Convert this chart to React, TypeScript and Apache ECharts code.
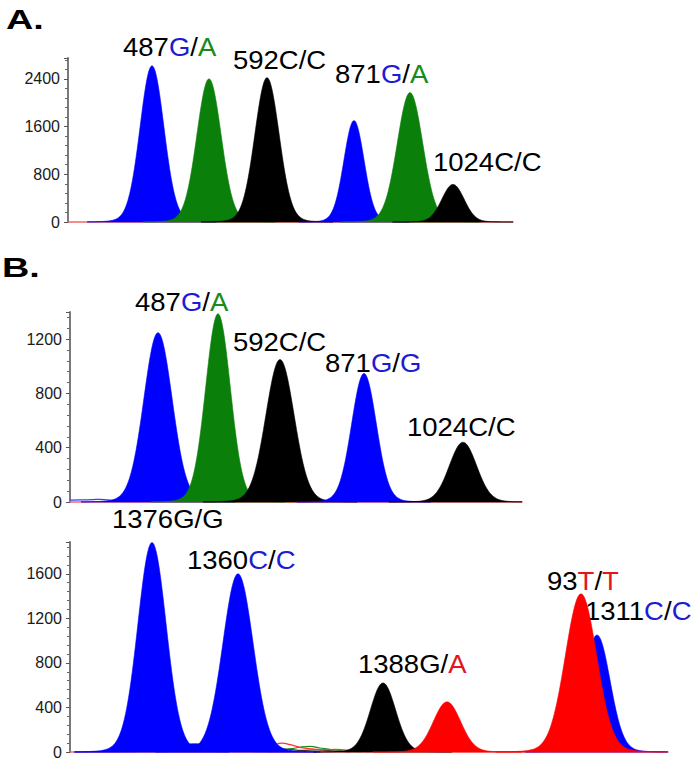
import React, { useEffect, useRef } from "react";
import * as echarts from "echarts";

// ---------- DATA ----------
// Dye colours of the electropherogram traces
const DYE_FILL: Record<string, string> = {
  blue: "#0000ff",
  green: "#0a7f0a",
  black: "#000000",
  red: "#ff0000",
};

// Panel A peaks (scan position, height in RFU, peak sigma in scan units, dye)
const aCenters = [84, 141, 199, 286, 342, 385];
const aHeights = [2620, 2400, 2420, 1700, 2170, 630];
const aWidths = [11.8, 12, 12, 10, 12.6, 11];
const aDyes = ["blue", "green", "black", "blue", "green", "black"];
const aYMax = 2750;
const aXMax = 445;

// Panel B (upper) peaks
const bCenters = [88, 148, 210, 294, 393];
const bHeights = [1248, 1387, 1050, 947, 440];
const bWidths = [14, 12.2, 14, 12.2, 13.5];
const bDyes = ["blue", "green", "black", "blue", "black"];
const bYMax = 1400;
const bXMax = 452;
const bNoiseBlue = [[0, 14], [12, 15], [22, 17], [30, 20], [38, 15], [48, 11], [58, 13], [66, 10]];

// Panel B (lower) peaks (incl. low blue shoulder between the first two peaks)
const cCenters = [125, 82, 168, 313, 377, 527, 511];
const cHeights = [75, 1880, 1600, 620, 450, 1050, 1420];
const cWidths = [22, 14, 15, 12.5, 13.5, 13, 15.5];
const cDyes = ["blue", "blue", "blue", "black", "red", "blue", "red"];
const cYMax = 1885;
const cXMax = 598;
const cNoiseRed = [[196, 0], [201, 30], [206, 68], [212, 80], [220, 66], [230, 42], [242, 28], [255, 20], [265, 24], [273, 20], [285, 8], [300, 0]];
const cNoiseGreen = [[200, 0], [210, 18], [222, 30], [232, 46], [240, 50], [250, 36], [262, 20], [275, 8], [292, 0]];
const cNoiseBlack = [[200, 0], [208, 28], [218, 24], [232, 14], [248, 18], [262, 10], [280, 0]];

// Y tick step for each panel
const aTickStep = 800;
const bTickStep = 400;
const cTickStep = 400;

// Peak annotations: text segments [text, dye]
const annotations = [
  { seg: [["487", "k"], ["G", "b"], ["/", "k"], ["A", "g"]] },
  { seg: [["592C/C", "k"]] },
  { seg: [["871", "k"], ["G", "b"], ["/", "k"], ["A", "g"]] },
  { seg: [["1024C/C", "k"]] },
  { seg: [["487", "k"], ["G", "b"], ["/", "k"], ["A", "g"]] },
  { seg: [["592C/C", "k"]] },
  { seg: [["871", "k"], ["G", "b"], ["/", "k"], ["G", "b"]] },
  { seg: [["1024C/C", "k"]] },
  { seg: [["1376G/G", "k"]] },
  { seg: [["1360", "k"], ["C", "b"], ["/", "k"], ["C", "b"]] },
  { seg: [["1388G/", "k"], ["A", "r"]] },
  { seg: [["93", "k"], ["T", "r"], ["/", "k"], ["T", "r"]] },
  { seg: [["1311", "k"], ["C", "b"], ["/", "k"], ["C", "b"]] },
];
const panelTitles = ["A.", "B."];

// ---------- LAYOUT ----------
const annPos = [
  [123, 47], [233, 60], [335, 74], [433, 162],
  [135, 302], [233, 342], [325, 363], [407, 427],
  [112, 519], [187, 560], [358, 664], [547, 581], [585, 611],
];
const titlePos = [[6, 19], [2, 267]];

const FONT = "'Liberation Sans', Arial, Helvetica, sans-serif";

function peakRender(dyes: string[], xMax: number) {
  return (params: any, api: any) => {
    const c = api.value(0);
    const h = api.value(1);
    const w = api.value(2);
    const span = w * 5.5;
    const lo = Math.max(0, c - span);
    const hi = Math.min(xMax, c + span);
    const N = 140;
    const pts: number[][] = [api.coord([lo, 0])];
    for (let i = 0; i <= N; i++) {
      const x = lo + ((hi - lo) * i) / N;
      const d = x - c;
      const y =
        h *
        (0.97 * Math.exp((-d * d) / (2 * w * w)) +
          0.03 * Math.exp((-d * d) / (2 * 4 * w * w)));
      pts.push(api.coord([x, y]));
    }
    pts.push(api.coord([hi, 0]));
    const col = DYE_FILL[dyes[params.dataIndex]];
    return {
      type: "polygon",
      shape: { points: pts },
      style: { fill: col, stroke: col, lineWidth: 0.6 },
    };
  };
}

function yAxisCfg(gridIndex: number, max: number, interval: number) {
  return {
    type: "value",
    gridIndex,
    min: 0,
    max,
    interval,
    axisLine: { show: true, lineStyle: { color: "#7a7a7a", width: 2 } },
    axisTick: { show: true, length: 4, lineStyle: { color: "#555", width: 1 } },
    minorTick: { show: true, splitNumber: 5, length: 3, lineStyle: { color: "#666", width: 1 } },
    axisLabel: {
      show: true,
      fontSize: 16,
      color: "#1a1a1a",
      fontFamily: "Liberation Sans",
      margin: 8,
      showMaxLabel: false,
      formatter: (v: number) => (v % interval === 0 ? String(v) : ""),
    },
    splitLine: { show: false },
    minorSplitLine: { show: false },
  };
}

function xAxisCfg(gridIndex: number, max: number) {
  return {
    type: "value",
    gridIndex,
    min: 0,
    max,
    axisLine: { show: true, onZero: true, lineStyle: { color: "#f06a6a", width: 1.5 } },
    axisTick: { show: false },
    axisLabel: { show: false },
    splitLine: { show: false },
  };
}

function noiseLine(xi: number, data: number[][], color: string) {
  return {
    type: "line",
    xAxisIndex: xi,
    yAxisIndex: xi,
    data,
    smooth: true,
    showSymbol: false,
    symbol: "none",
    lineStyle: { color, width: 1.2 },
    z: 1,
  };
}

const rich = {
  k: { fill: "#000000", font: `25px ${FONT}` },
  b: { fill: "#1c1cd2", font: `25px ${FONT}` },
  g: { fill: "#1a8a1a", font: `25px ${FONT}` },
  r: { fill: "#e3161c", font: `25px ${FONT}` },
};

export default function App() {
  const ref = useRef<HTMLDivElement>(null);
  useEffect(() => {
    if (!ref.current) return;
    const chart = echarts.init(ref.current, null, { renderer: "svg" });

    const graphics: any[] = [];
    annotations.forEach((a, i) => {
      graphics.push({
        type: "text",
        x: annPos[i][0],
        y: annPos[i][1],
        scaleX: 1.1,
        style: {
          text: a.seg.map((s) => `{${s[1]}|${s[0]}}`).join(""),
          rich,
          font: `25px ${FONT}`,
          verticalAlign: "middle",
          align: "left",
        },
      });
    });
    panelTitles.forEach((t, i) => {
      graphics.push({
        type: "text",
        x: titlePos[i][0],
        y: titlePos[i][1],
        scaleX: 1.35,
        style: {
          text: t,
          font: `bold 28px ${FONT}`,
          fill: "#000",
          verticalAlign: "middle",
          align: "left",
        },
      });
    });

    chart.setOption({
      animation: false,
      backgroundColor: "#ffffff",
      grid: [
        { left: 68, top: 58, width: aXMax, height: 164 },
        { left: 70, top: 312, width: bXMax, height: 190 },
        { left: 70, top: 542, width: cXMax, height: 210 },
      ],
      xAxis: [xAxisCfg(0, aXMax), xAxisCfg(1, bXMax), xAxisCfg(2, cXMax)],
      yAxis: [
        yAxisCfg(0, aYMax, aTickStep),
        yAxisCfg(1, bYMax, bTickStep),
        yAxisCfg(2, cYMax, cTickStep),
      ],
      series: [
        {
          type: "custom",
          xAxisIndex: 0,
          yAxisIndex: 0,
          renderItem: peakRender(aDyes, aXMax),
          data: aCenters.map((c, i) => [c, aHeights[i], aWidths[i]]),
          z: 2,
        },
        noiseLine(1, bNoiseBlue, "#3b3bff"),
        {
          type: "custom",
          xAxisIndex: 1,
          yAxisIndex: 1,
          renderItem: peakRender(bDyes, bXMax),
          data: bCenters.map((c, i) => [c, bHeights[i], bWidths[i]]),
          z: 2,
        },
        noiseLine(2, cNoiseBlack, "#333333"),
        noiseLine(2, cNoiseGreen, "#1a8a1a"),
        noiseLine(2, cNoiseRed, "#ff3030"),
        {
          type: "custom",
          xAxisIndex: 2,
          yAxisIndex: 2,
          renderItem: peakRender(cDyes, cXMax),
          data: cCenters.map((c, i) => [c, cHeights[i], cWidths[i]]),
          z: 2,
        },
      ],
      graphic: graphics,
    });
    return () => chart.dispose();
  }, []);
  return (
    <div
      ref={ref}
      style={{ position: "absolute", left: 0, top: 0, width: 695, height: 762 }}
    />
  );
}
